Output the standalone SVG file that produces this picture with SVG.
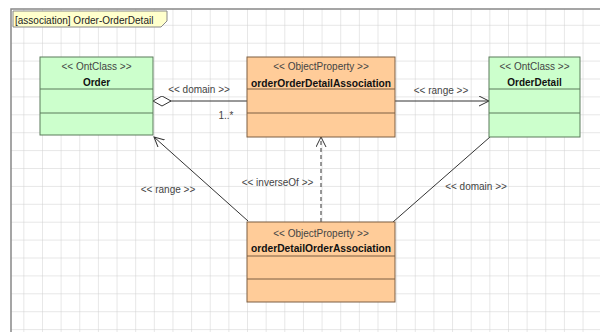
<svg xmlns="http://www.w3.org/2000/svg" width="600" height="332" viewBox="0 0 600 332">
<style>
text{font-family:"Liberation Sans",Arial,sans-serif;font-size:10px;fill:#222}
.st{fill:#444}
.nm{font-weight:bold;fill:#111}
.lbl{fill:#444}
.cls rect,.cls line{stroke:#5b7a5b;stroke-width:1}
.cls rect{fill:#ccffcc}
.prop rect,.prop line{stroke:#7d5f42;stroke-width:1}
.prop rect{fill:#ffcc99}
.conn{stroke:#333;stroke-width:1;fill:none}
</style>
<defs>
<pattern id="grid" x="4.7" y="6.9" width="18.64" height="17.9" patternUnits="userSpaceOnUse">
<path d="M0,0 H18.64 M0,0 V17.9" stroke="#cfcfcf" stroke-width="1" fill="none"/>
</pattern>
<marker id="open" markerWidth="12" markerHeight="12" refX="10" refY="5" orient="auto" markerUnits="userSpaceOnUse">
<path d="M0,0 L10,5 L0,10" fill="none" stroke="#333" stroke-width="1"/>
</marker>
<marker id="diamond" markerWidth="20" markerHeight="12" refX="0" refY="5" orient="auto" markerUnits="userSpaceOnUse">
<path d="M0,5 L9,0 L18,5 L9,10 Z" fill="#fff" stroke="#333" stroke-width="1"/>
</marker>
</defs>
<rect x="0" y="0" width="600" height="332" fill="#fff"/>
<rect x="11" y="9" width="600" height="400" fill="url(#grid)" stroke="#888" stroke-width="1.5"/>
<g id="frame-tab">
<path d="M13,11 H167 V21 L161,27 H13 Z" fill="#ffffcc" stroke="#888" stroke-width="1"/>
<text x="15" y="23.5">[association] Order-OrderDetail</text>
</g>
<g id="connectors">
<line class="conn" x1="153" y1="101" x2="247" y2="101" marker-start="url(#diamond)"/>
<line class="conn" x1="395" y1="101" x2="489" y2="101" marker-end="url(#open)"/>
<line class="conn" x1="248" y1="221" x2="154" y2="137" marker-end="url(#open)"/>
<line class="conn" x1="393" y1="222" x2="490" y2="137"/>
<line class="conn" x1="321" y1="222" x2="321" y2="137" stroke-dasharray="4,3" marker-end="url(#open)"/>
<text class="lbl" x="199" y="92.5" text-anchor="middle">&lt;&lt; domain &gt;&gt;</text>
<text class="lbl" x="226" y="118.5" text-anchor="middle">1..*</text>
<text class="lbl" x="441" y="94" text-anchor="middle">&lt;&lt; range &gt;&gt;</text>
<text class="lbl" x="168" y="192.5" text-anchor="middle">&lt;&lt; range &gt;&gt;</text>
<text class="lbl" x="277.5" y="185.5" text-anchor="middle">&lt;&lt; inverseOf &gt;&gt;</text>
<text class="lbl" x="476" y="190" text-anchor="middle">&lt;&lt; domain &gt;&gt;</text>
</g>
<g id="Order" class="cls">
<rect x="40" y="57" width="113" height="78"/>
<line x1="40" y1="89" x2="153" y2="89"/>
<line x1="40" y1="113" x2="153" y2="113"/>
<text class="st" x="96.5" y="69.5" text-anchor="middle">&lt;&lt; OntClass &gt;&gt;</text>
<text class="nm" x="96.5" y="85.5" text-anchor="middle">Order</text>
</g>
<g id="orderOrderDetailAssociation" class="prop">
<rect x="247" y="57" width="148" height="80"/>
<line x1="247" y1="89" x2="395" y2="89"/>
<line x1="247" y1="113" x2="395" y2="113"/>
<text class="st" x="321" y="69.5" text-anchor="middle">&lt;&lt; ObjectProperty &gt;&gt;</text>
<text class="nm" x="321" y="86.5" text-anchor="middle" textLength="140" lengthAdjust="spacingAndGlyphs">orderOrderDetailAssociation</text>
</g>
<g id="OrderDetail" class="cls">
<rect x="489" y="57" width="91" height="80"/>
<line x1="489" y1="89" x2="580" y2="89"/>
<line x1="489" y1="113" x2="580" y2="113"/>
<text class="st" x="534.5" y="69.5" text-anchor="middle">&lt;&lt; OntClass &gt;&gt;</text>
<text class="nm" x="534.5" y="85.5" text-anchor="middle">OrderDetail</text>
</g>
<g id="orderDetailOrderAssociation" class="prop">
<rect x="247" y="222" width="148" height="80"/>
<line x1="247" y1="256" x2="395" y2="256"/>
<line x1="247" y1="279" x2="395" y2="279"/>
<text class="st" x="321" y="236.5" text-anchor="middle">&lt;&lt; ObjectProperty &gt;&gt;</text>
<text class="nm" x="321" y="252" text-anchor="middle" textLength="140" lengthAdjust="spacingAndGlyphs">orderDetailOrderAssociation</text>
</g>
</svg>
